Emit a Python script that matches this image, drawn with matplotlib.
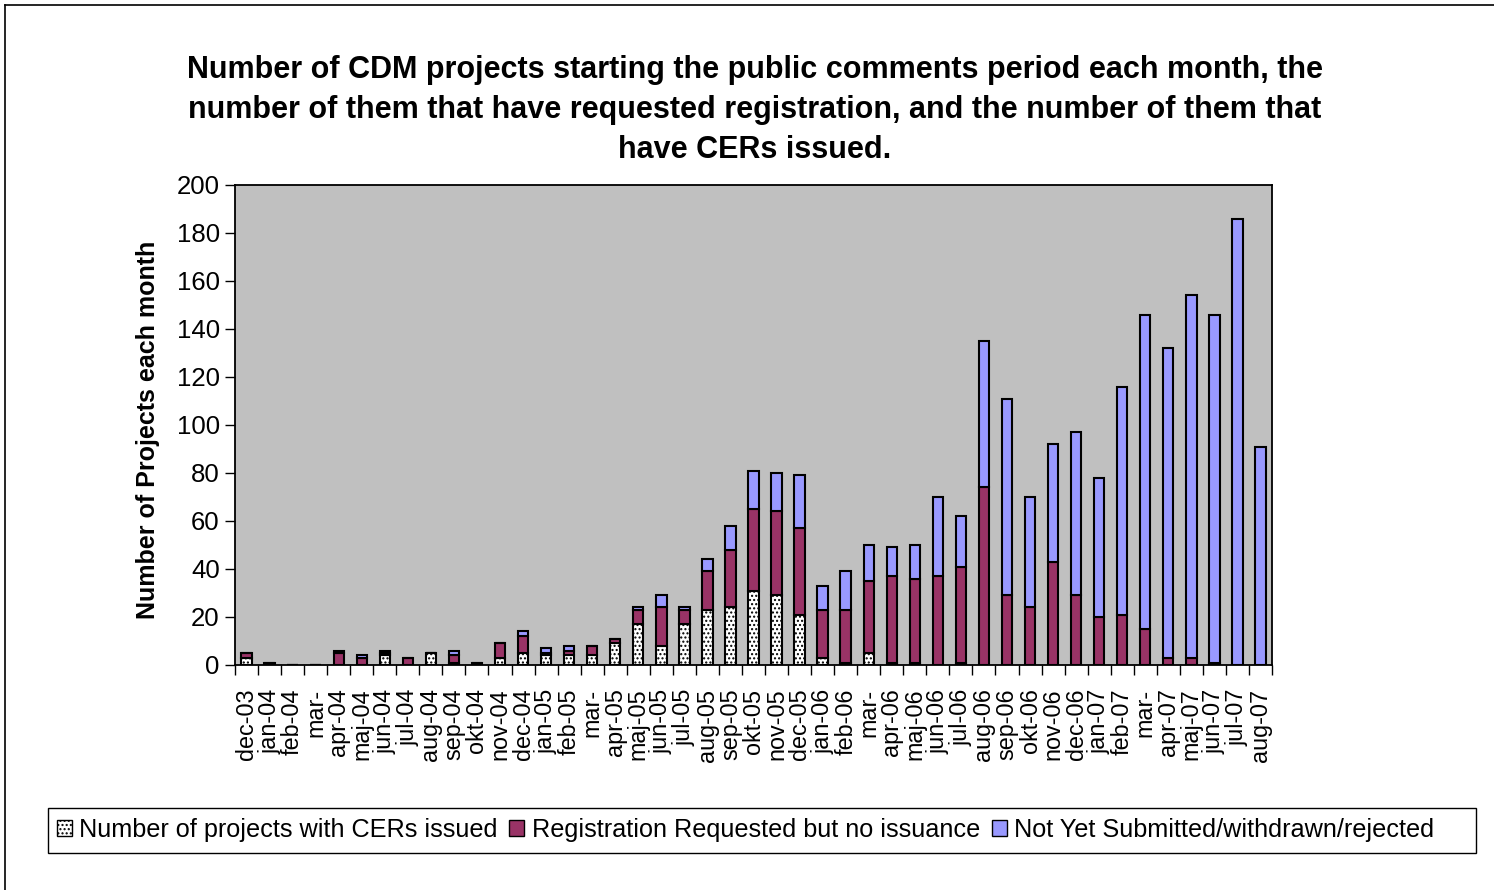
import matplotlib
matplotlib.use("Agg")
import matplotlib.pyplot as plt
from matplotlib.patches import Rectangle
from matplotlib.lines import Line2D
import numpy as np

plt.rcParams['font.family'] = ['Liberation Sans', 'DejaVu Sans']
plt.rcParams['hatch.linewidth'] = 1.0

# month labels as shown on the axis (march labels are cut off in the original)
months = ['dec-03', 'jan-04', 'feb-04', 'mar-', 'apr-04', 'maj-04', 'jun-04', 'jul-04',
          'aug-04', 'sep-04', 'okt-04', 'nov-04', 'dec-04', 'jan-05', 'feb-05', 'mar-',
          'apr-05', 'maj-05', 'jun-05', 'jul-05', 'aug-05', 'sep-05', 'okt-05', 'nov-05',
          'dec-05', 'jan-06', 'feb-06', 'mar-', 'apr-06', 'maj-06', 'jun-06', 'jul-06',
          'aug-06', 'sep-06', 'okt-06', 'nov-06', 'dec-06', 'jan-07', 'feb-07', 'mar-',
          'apr-07', 'maj-07', 'jun-07', 'jul-07', 'aug-07']

cers_issued = [3, 0, 0, 0, 0, 0, 4, 0, 5, 1, 0, 3, 5, 4, 4, 4,
               9, 17, 8, 17, 23, 24, 31, 29, 21, 3, 1, 5, 1, 1, 0, 1,
               0, 0, 0, 0, 0, 0, 0, 0, 0, 0, 0, 0, 0]
reg_requested = [2, 1, 0, 0, 5, 3, 1, 3, 0, 3, 1, 6, 7, 1, 2, 4,
                 2, 6, 16, 6, 16, 24, 34, 35, 36, 20, 22, 30, 36, 35, 37, 40,
                 74, 29, 24, 43, 29, 20, 21, 15, 3, 3, 1, 0, 0]
not_submitted = [0, 0, 0, 0, 1, 1, 1, 0, 0, 2, 0, 0, 2, 2, 2, 0,
                 0, 1, 5, 1, 5, 10, 16, 16, 22, 10, 16, 15, 12, 14, 33, 21,
                 61, 82, 46, 49, 68, 58, 95, 131, 129, 151, 145, 186, 91]

series_names = ['Number of projects with CERs issued',
                'Registration Requested but no issuance',
                'Not Yet Submitted/withdrawn/rejected']

W, H = 1494, 890
fig = plt.figure(figsize=(W / 100, H / 100), dpi=100)
ax = fig.add_axes([235 / W, 1 - 665 / H, (1272 - 235) / W, (665 - 185) / H])
ax.set_facecolor('#C0C0C0')

x = np.arange(len(months))
c = np.array(cers_issued)
r = np.array(reg_requested)
n = np.array(not_submitted)
bw = 0.45
ax.bar(x, c, bw, color='white', edgecolor='black', hatch='....', linewidth=1.5, zorder=3)
ax.bar(x, r, bw, bottom=c, color='#993366', edgecolor='black', linewidth=1.5, zorder=3)
ax.bar(x, n, bw, bottom=c + r, color='#9999FF', edgecolor='black', linewidth=1.5, zorder=3)

ax.set_xlim(-0.5, len(months) - 0.5)
ax.set_ylim(0, 200)
ax.set_yticks(range(0, 201, 20))
ax.set_xticks(x)
ax.set_xticklabels(months, rotation=90, fontsize=16.8)
ax.set_xticks(np.arange(-0.5, len(months)), minor=True)
ax.tick_params(axis='x', which='major', length=0, pad=17)
ax.tick_params(axis='x', which='minor', length=7, width=1, direction='out')
ax.tick_params(axis='y', labelsize=18.5, length=7, width=1, direction='out', pad=4)
for s in ax.spines.values():
    s.set_linewidth(1.3)

ax.set_ylabel('Number of Projects each month', fontsize=18, fontweight='bold')
ax.yaxis.set_label_coords(-0.072, 0.49)

fig.text(755 / W, 1 - 110 / H,
         'Number of CDM projects starting the public comments period each month, the\n'
         'number of them that have requested registration, and the number of them that\n'
         'have CERs issued.',
         ha='center', va='center', fontsize=22, fontweight='bold', linespacing=1.42)

# legend with a box spanning the width, like the original
fig.patches.append(Rectangle((48 / W, 1 - 853 / H), (1476 - 48) / W, 45 / H,
                             transform=fig.transFigure, fill=False, edgecolor='black',
                             linewidth=1.0))
handles = [Rectangle((0, 0), 1, 1, facecolor='white', edgecolor='black', hatch='....'),
           Rectangle((0, 0), 1, 1, facecolor='#993366', edgecolor='black'),
           Rectangle((0, 0), 1, 1, facecolor='#9999FF', edgecolor='black')]
fig.legend(handles, series_names, loc='center left', bbox_to_anchor=(44 / W, 1 - 830 / H),
           ncol=3, frameon=False, fontsize=18.2, handlelength=0.6, handleheight=0.6,
           handletextpad=0.3, columnspacing=0.45, borderpad=0)

# outer frame lines (top and left) of the original image
fig.add_artist(Line2D([5 / W, 1], [1 - 5 / H, 1 - 5 / H], transform=fig.transFigure,
                      color='black', linewidth=1.2))
fig.add_artist(Line2D([5 / W, 5 / W], [0, 1 - 5 / H], transform=fig.transFigure,
                      color='black', linewidth=1.2))

fig.savefig('out.png', dpi=100)
